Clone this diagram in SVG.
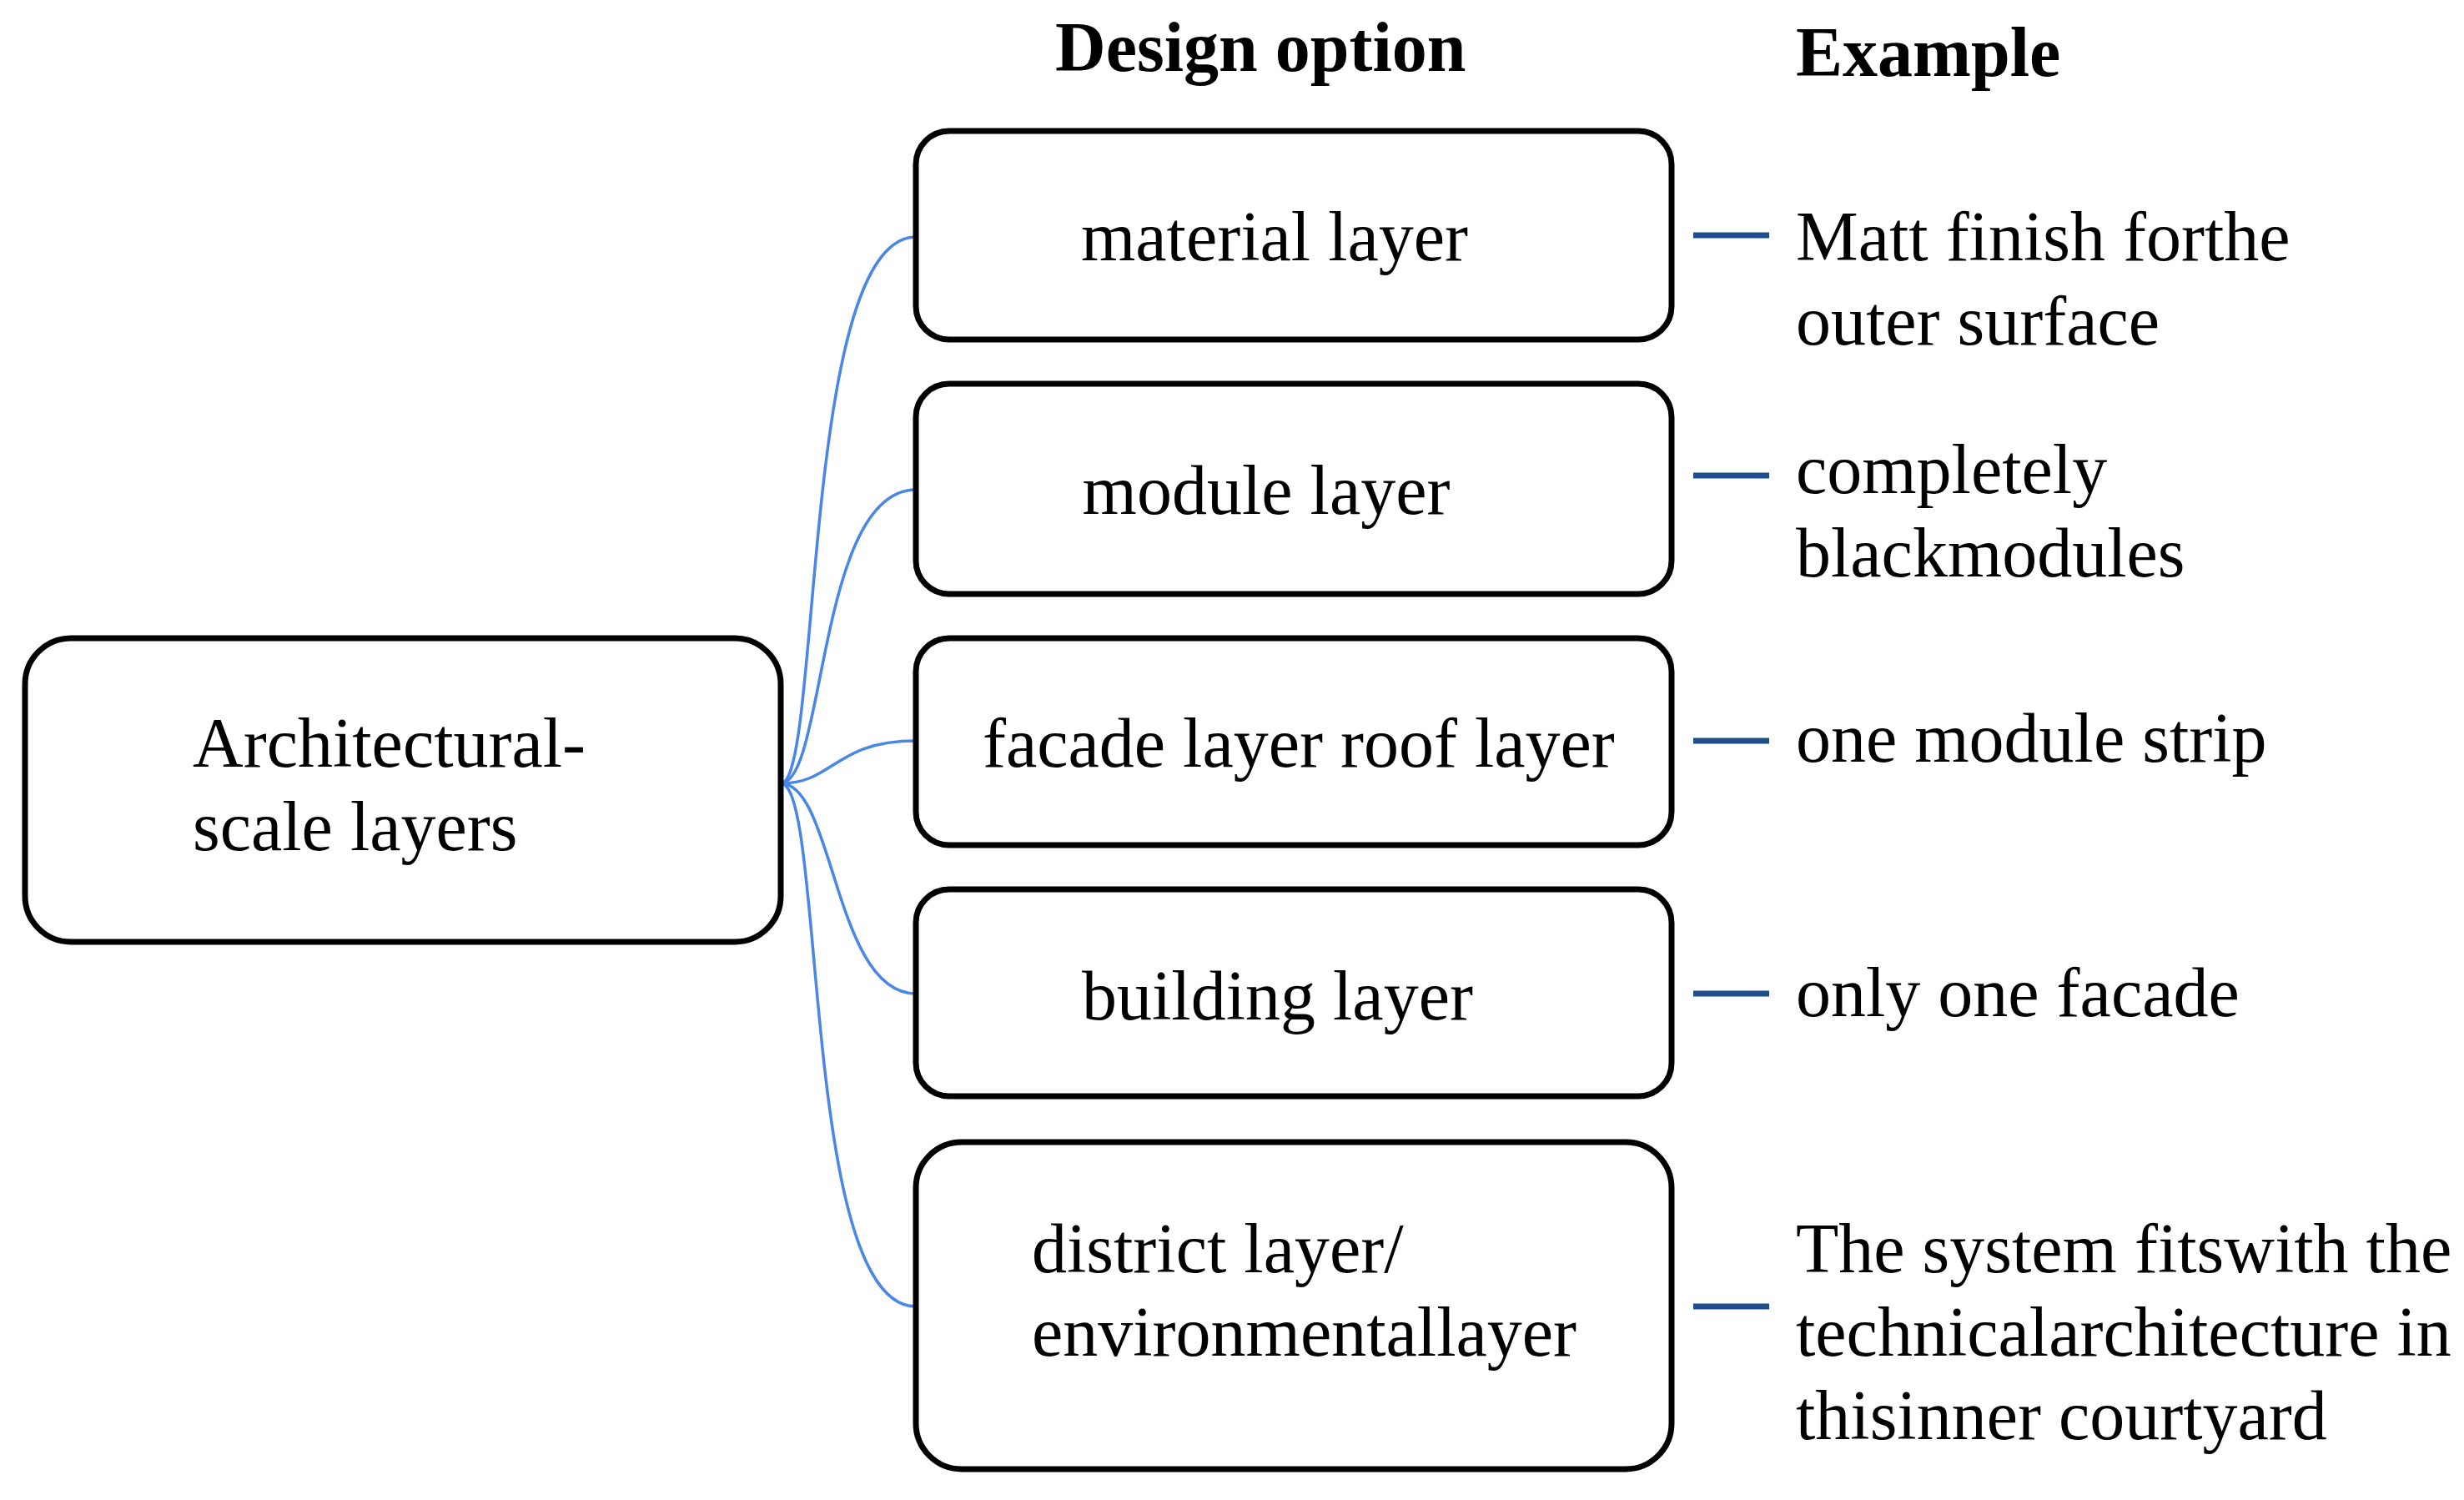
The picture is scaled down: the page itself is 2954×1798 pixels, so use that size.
<svg xmlns="http://www.w3.org/2000/svg" width="2954" height="1798" viewBox="0 0 2954 1798">
<style>
.box{fill:#fff;stroke:#000;stroke-width:7}
text{font-family:"Liberation Serif","Times New Roman",serif;font-size:84px;fill:#000}
.h{font-weight:bold}
.con{fill:none;stroke:#4a86e8;stroke-width:3.5}
.dash{stroke:#1f4e8c;stroke-width:7}
</style>
<rect width="2954" height="1798" fill="#fff"/>
<text class="h" x="1265" y="85">Design option</text>
<text class="h" x="2153" y="91">Example</text>
<g id="connectors">
<path class="con" d="M936,939 C985,939 960,284 1098,284"/>
<path class="con" d="M936,939 C990,939 980,587 1098,587"/>
<path class="con" d="M936,939 C1000,939 1000,888 1098,888"/>
<path class="con" d="M936,939 C1000,939 1000,1191 1098,1191"/>
<path class="con" d="M936,939 C990,939 960,1566 1098,1566"/>
<line class="dash" x1="2030" y1="282" x2="2121" y2="282"/>
<line class="dash" x1="2030" y1="570" x2="2121" y2="570"/>
<line class="dash" x1="2030" y1="888" x2="2121" y2="888"/>
<line class="dash" x1="2030" y1="1191" x2="2121" y2="1191"/>
<line class="dash" x1="2030" y1="1566" x2="2121" y2="1566"/>
</g>
<g id="root"><rect class="box" x="30" y="765" width="906" height="364" rx="55"/>
<text x="231" y="919">Architectural-</text><text x="231" y="1019">scale layers</text></g>
<g id="n1"><rect class="box" x="1098" y="157" width="906" height="250" rx="40"/><text x="1528" y="312" text-anchor="middle">material layer</text></g>
<g id="n2"><rect class="box" x="1098" y="460" width="906" height="252" rx="40"/><text x="1518" y="616" text-anchor="middle">module layer</text></g>
<g id="n3"><rect class="box" x="1098" y="765" width="906" height="248" rx="40"/><text x="1178" y="919">facade layer roof layer</text></g>
<g id="n4"><rect class="box" x="1098" y="1066" width="906" height="248" rx="40"/><text x="1297" y="1222">building layer</text></g>
<g id="n5"><rect class="box" x="1098" y="1369" width="906" height="392" rx="55"/><text x="1237" y="1525">district layer/</text><text x="1237" y="1625">environmentallayer</text></g>
<g id="examples">
<text x="2153" y="312">Matt finish forthe</text><text x="2153" y="413">outer surface</text>
<text x="2153" y="591">completely</text><text x="2153" y="691">blackmodules</text>
<text x="2153" y="913">one module strip</text>
<text x="2153" y="1218">only one facade</text>
<text x="2153" y="1525">The system fitswith the</text><text x="2153" y="1625">technicalarchitecture in</text><text x="2153" y="1725">thisinner courtyard</text>
</g>
</svg>
